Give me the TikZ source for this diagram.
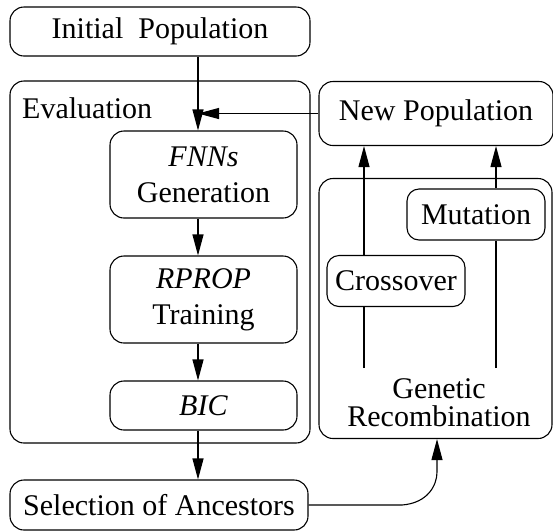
\documentclass[tikz,border=0pt]{standalone}
\usepackage{fontspec}
\setmainfont{Liberation Serif}
\usetikzlibrary{arrows.meta}
\begin{document}
\begin{tikzpicture}[x=1pt,y=-1pt,
  every node/.style={font=\fontsize{30}{35}\selectfont, inner sep=0pt},
  box/.style={draw, line width=1.1pt, rounded corners=14pt, align=center},
  ln/.style={line width=1.1pt},
  arr/.style={line width=1.1pt, -{Triangle[length=21pt,width=11pt]}}]
\useasboundingbox (0,0) rectangle (553,531);
% named coordinates for connector columns
\coordinate (ax) at (198,0);
\coordinate (cx) at (364,368);
\coordinate (mx) at (496,368);
\coordinate (gx) at (437,0);
% left column
\node[box, minimum width=300pt, minimum height=49pt] (init) at (160,31.5) {Initial\ \ Population};
\node[box, minimum width=300pt, minimum height=362pt] (eval) at (160,262) {};
\node[anchor=base west] (evallbl) at (22,118) {Evaluation};
\node[box, minimum width=187pt, minimum height=87pt, font=\fontsize{30}{36}\selectfont] (fnn) at (203.5,174.5) {\textit{FNNs}\\Generation};
\node[box, minimum width=187pt, minimum height=87pt, font=\fontsize{30}{36}\selectfont] (rprop) at (203.5,299.5) {\textit{RPROP}\\Training};
\node[box, minimum width=187pt, minimum height=49pt] (bic) at (203.5,405.5) {\textit{BIC}};
\node[box, minimum width=298pt, minimum height=50pt] (sel) at (159,505) {Selection of Ancestors};
% right column
\node[box, minimum width=234pt, minimum height=64pt] (newpop) at (436,113.5) {New Population};
\node[box, minimum width=233pt, minimum height=260pt] (genrec) at (435.5,308.5) {};
\node[align=center, font=\fontsize{30}{28}\selectfont] (grlbl) at (439,402.5) {Genetic\\Recombination};
\node[box, minimum width=138pt, minimum height=51pt, rounded corners=12pt] (mut) at (476,214.5) {Mutation};
\node[box, minimum width=138pt, minimum height=51pt, rounded corners=12pt] (cross) at (396,281) {Crossover};
% connectors
\draw[arr] (init.south -| ax) -- (fnn.north -| ax);
\draw[arr] (newpop.west) -- (newpop.west -| ax);
\draw[arr] (fnn.south -| ax) -- (rprop.north -| ax);
\draw[arr] (rprop.south -| ax) -- (bic.north -| ax);
\draw[arr] (bic.south -| ax) -- (sel.north -| ax);
\draw[ln] (cx) -- (cross.south -| cx);
\draw[arr] (cross.north -| cx) -- (newpop.south -| cx);
\draw[ln] (mx) -- (mut.south -| mx);
\draw[arr] (mut.north -| mx) -- (newpop.south -| mx);
\draw[arr] (sel.east) -- (402,505) .. controls (428,503) and (437,485) .. (437,472) -- (genrec.south -| gx);
\end{tikzpicture}
\end{document}
